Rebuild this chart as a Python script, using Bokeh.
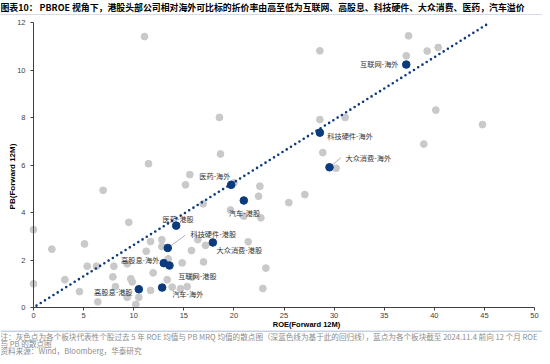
from bokeh.plotting import figure
from bokeh.models import Range1d, ColumnDataSource, FixedTicker, Span
from bokeh.embed import file_html
from bokeh.resources import INLINE
from bokeh.core.properties import value

# ---------------- data ----------------
gray_roe = [11.08, 11.48, 0.0, 0.0, 1.83, 5.09, 6.95, 9.51, 3.13, 4.59, 5.36, 6.29, 8.02, 7.92,
            8.18, 6.42, 9.35, 9.71, 9.85, 9.35, 10.51, 10.21, 11.68, 11.94, 11.25, 11.68, 12.81,
            12.81, 13.44, 13.34, 13.84, 14.67, 14.84, 15.17, 15.6, 15.77, 15.83, 15.34, 16.4,
            18.56, 28.58, 28.58, 31.1, 18.66, 28.87, 30.2, 20.0, 22.59, 22.46, 27.08, 25.48,
            16.93, 19.66, 20.99, 22.69, 17.17, 21.43, 16.97, 23.19, 22.89, 37.43, 37.2, 39.29,
            40.39, 40.15, 44.81, 38.95]
gray_pb = [11.42, 6.06, 3.28, 1.0, 2.46, 2.68, 4.94, 3.59, 1.17, 0.67, 1.74, 1.74, 1.74, 1.29,
           0.88, 0.24, 1.84, 1.21, 1.08, 0.43, 0.43, 0.13, 0.72, 1.46, 2.37, 2.78, 2.86,
           2.57, 2.05, 1.17, 0.86, 0.79, 1.88, 5.17, 5.6, 2.4, 1.28, 0.88, 2.86,
           8.01, 10.82, 7.92, 8.01, 6.47, 6.53, 5.87, 5.25, 5.11, 4.69, 4.76, 4.42,
           4.37, 4.11, 3.85, 3.78, 2.62, 2.77, 1.92, 1.66, 0.8, 11.45, 10.61, 10.81,
           10.96, 8.32, 7.71, 6.89]

blue_names = ["互联网-海外", "科技硬件-海外", "大众消费-海外", "医药-海外", "汽车-港股",
              "医药-港股", "科技硬件-港股", "大众消费-港股", "高股息-海外", "互联网-港股",
              "高股息-港股", "汽车-海外"]
blue_roe = [37.2, 28.58, 29.54, 19.73, 20.99, 14.24, 13.4, 17.9, 13.0, 13.57, 10.51, 12.84]
blue_pb = [10.24, 7.37, 5.91, 5.17, 4.51, 3.45, 2.51, 2.74, 1.87, 1.77, 0.77, 0.84]

reg_slope = 0.2637
reg_intercept = 0.0
reg_roe = [0.3, 45.5]
reg_pb = [reg_slope * v + reg_intercept for v in reg_roe]

x_ticks = [0, 5, 10, 15, 20, 25, 30, 35, 40, 45, 50]
y_ticks = [0, 2, 4, 6, 8, 10, 12]

title_text = "图表10： PBROE 视角下，港股头部公司相对海外可比标的折价率由高至低为互联网、高股息、科技硬件、大众消费、医药，汽车溢价"
x_label = "ROE(Forward 12M)"
y_label = "PB(Forward 12M)"
notes = ["注：灰色点为各个板块代表性个股过去 5 年 ROE 均值与 PB MRQ 均值的散点图（深蓝色线为基于此的回归线），蓝点为各个板块截至 2024.11.4 前向 12 个月 ROE",
         "与 PB 的散点图",
         "资料来源：Wind，Bloomberg，华泰研究"]

# ---------------- layout / style ----------------
BLUE = "#0b3a7e"
GRAY = "#c9c9c9"
AXIS = "#404040"
CJK = "Noto Sans CJK SC"
LAT = "Liberation Sans"

W, H = 542, 356
# pixel box of the plotting area (axes) inside the canvas
PX_L, PX_R, PX_T, PX_B = 33, 534, 22.3, 307
xmin, xmax = x_ticks[0], x_ticks[-1]
ymin, ymax = y_ticks[0], y_ticks[-1]
ppx = (PX_R - PX_L) / (xmax - xmin)
ppy = (PX_B - PX_T) / (ymax - ymin)
X0 = xmin - PX_L / ppx
X1 = xmax + (W - PX_R) / ppx
Y0 = ymin - (H - PX_B) / ppy
Y1 = ymax + PX_T / ppy


def fx(px):
    return X0 + px / ppx


def fy(py):
    return Y1 - py / ppy


# label placement: (x offset px, y offset px, align)
label_pos = {
    "互联网-海外": (-7.7, -0.7, "right"),
    "科技硬件-海外": (7.4, 3, "left"),
    "大众消费-海外": (16, -9, "left"),
    "医药-海外": (-0.7, -8.6, "right"),
    "汽车-港股": (-15, 12.7, "left"),
    "医药-港股": (-13.7, -6.3, "left"),
    "科技硬件-港股": (22.7, -14.3, "left"),
    "大众消费-港股": (3.7, 8, "left"),
    "高股息-海外": (-4.3, -3.4, "right"),
    "互联网-港股": (8.7, 10, "left"),
    "高股息-港股": (-6.3, 3, "right"),
    "汽车-海外": (10, 6.3, "left"),
}
# leader lines: name -> (angle deg, length px)
leaders = {"大众消费-海外": (40, 15), "科技硬件-港股": (36, 22)}

p = figure(width=W, height=H, output_backend="svg", toolbar_location=None,
           x_range=Range1d(X0, X1), y_range=Range1d(Y0, Y1), min_border=0)
p.outline_line_color = None
p.grid.visible = False
p.background_fill_color = "white"
p.border_fill_color = "white"

for ax, ticks in ((p.xaxis, x_ticks), (p.yaxis, y_ticks)):
    ax.ticker = FixedTicker(ticks=ticks)
    ax.fixed_location = 0
    ax.axis_line_color = AXIS
    ax.major_tick_line_color = AXIS
    ax.major_tick_out = 3
    ax.major_tick_in = 0
    ax.minor_tick_line_color = None
    ax.major_label_text_font = LAT
    ax.major_label_text_font_size = "7.5px"
    ax.major_label_text_color = AXIS
p.xaxis.bounds = (xmin, xmax)
p.yaxis.bounds = (ymin, ymax)
p.xaxis.major_label_standoff = 2
p.yaxis.major_label_standoff = 5

p.scatter(gray_roe, gray_pb, size=6.8, fill_color=GRAY, line_color=GRAY)
p.line(reg_roe, reg_pb, line_color=BLUE, line_width=2.6, line_dash="0 5", line_cap="round")

# leaders
lx, ly, la, ll = [], [], [], []
for n, (ang, ln) in leaders.items():
    i = blue_names.index(n)
    lx.append(blue_roe[i]); ly.append(blue_pb[i]); la.append(ang); ll.append(ln)
p.ray(x=lx, y=ly, angle=la, angle_units="deg", length=ll, length_units="screen",
      line_color="#a0a0a0", line_width=0.8)

p.scatter(blue_roe, blue_pb, size=7.6, fill_color=BLUE, line_color=BLUE)

for align in ("left", "right"):
    idx = [i for i, n in enumerate(blue_names) if label_pos[n][2] == align]
    src = ColumnDataSource(dict(
        x=[blue_roe[i] for i in idx], y=[blue_pb[i] for i in idx],
        t=[blue_names[i] for i in idx],
        xo=[label_pos[blue_names[i]][0] for i in idx],
        yo=[label_pos[blue_names[i]][1] for i in idx]))
    p.text(x="x", y="y", text="t", x_offset="xo", y_offset="yo", source=src,
           text_font=value(CJK), text_font_size=value("7.2px"), text_color="#333333",
           text_align=align, text_baseline="middle")


def add_text(px, py, txt, size, font, color, style="normal", align="left", angle=0):
    p.text(x=[fx(px)], y=[fy(py)], text=[txt], text_font=value(font),
           text_font_size=value(size), text_color=color, text_font_style=style,
           text_align=align, text_baseline="middle", angle=angle, angle_units="deg")


add_text(0, 7, title_text, "8.9px", CJK, "#000000", style="bold")
add_text(306, 324, x_label, "7.5px", LAT, "#000000", style="bold", align="center")
add_text(12, 176, y_label, "8px", LAT, "#000000", style="bold", align="center", angle=90)
for t, py in zip(notes, [335.7, 342.9, 350.2]):
    add_text(0, py, t, "7.6px", CJK, "#8c8c8c")

p.add_layout(Span(location=fy(14), dimension="width", line_color="#d5dbe5", line_width=1))
p.add_layout(Span(location=fy(330.7), dimension="width", line_color="#a9bad6", line_width=1))

open("out.html", "w").write(file_html(p, INLINE))
